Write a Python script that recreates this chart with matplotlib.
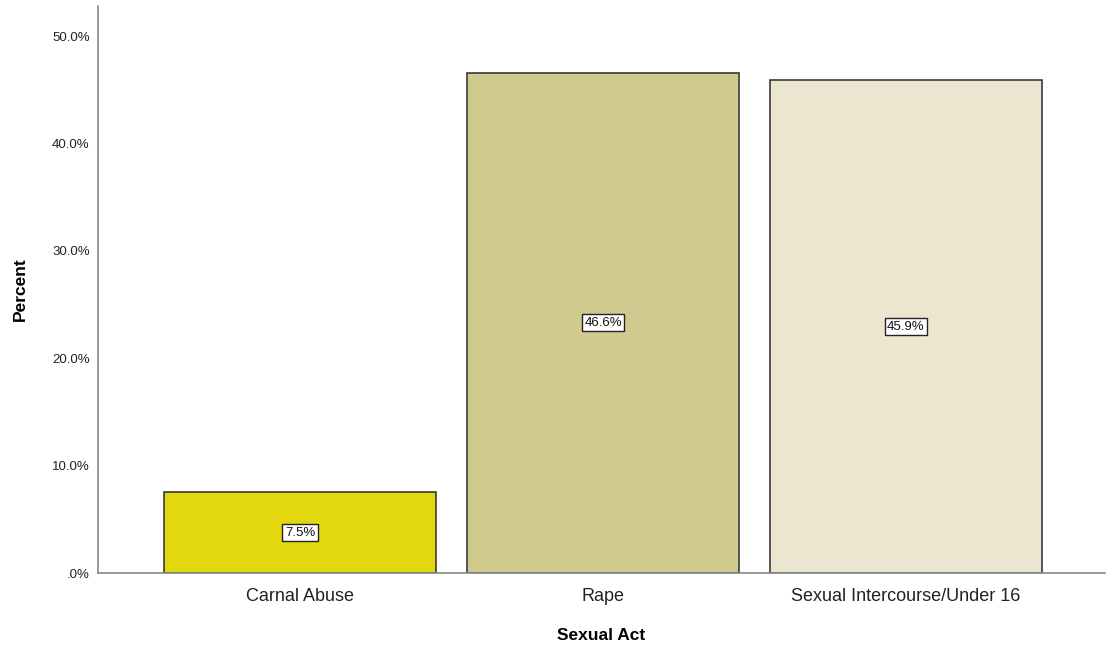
import matplotlib
matplotlib.use("Agg")
import matplotlib.pyplot as plt
from matplotlib.ticker import FuncFormatter

categories = ["Carnal Abuse", "Rape", "Sexual Intercourse/Under 16"]
percents = [7.5, 46.6, 45.9]
bar_colors = ["#E3D70E", "#D0CA8E", "#ECE5CF"]

fig = plt.figure(figsize=(11.06, 6.51), dpi=100, facecolor="white")
ax = fig.add_axes([98 / 1106, 78 / 651, 1007 / 1106, 567 / 651])

x = list(range(len(categories)))
ax.bar(x, percents, width=0.898, color=bar_colors, edgecolor="#3a3a3a", linewidth=1.2, zorder=2)

for xi, p in zip(x, percents):
    ax.text(xi, p / 2, "{:.1f}%".format(p), ha="center", va="center", fontsize=9.5,
            family="Liberation Sans", color="#111111", zorder=3,
            bbox=dict(boxstyle="square,pad=0.2", facecolor="white", edgecolor="#222222", linewidth=1))

ax.set_xlim(-0.667, 2.657)
ax.set_ylim(0, 52.8)
ax.set_yticks([0, 10, 20, 30, 40, 50])


def pct(v, pos):
    s = "{:.1f}%".format(v)
    return s[1:] if s.startswith("0") else s


ax.yaxis.set_major_formatter(FuncFormatter(pct))
ax.set_xticks(x)
ax.set_xticklabels(categories)
ax.tick_params(axis="x", length=0, pad=11, labelsize=13, labelcolor="#222222")
ax.tick_params(axis="y", length=0, pad=6, labelsize=9.5, labelcolor="#222222")
for lab in ax.get_xticklabels() + ax.get_yticklabels():
    lab.set_family("Liberation Sans")

for side in ["top", "right"]:
    ax.spines[side].set_visible(False)
for side in ["left", "bottom"]:
    ax.spines[side].set_color("#888888")
    ax.spines[side].set_linewidth(1.2)

ax.set_xlabel("Sexual Act", fontsize=12.5, fontweight="bold", family="Liberation Sans", labelpad=16)
ax.set_ylabel("Percent", fontsize=12.5, fontweight="bold", family="Liberation Sans", labelpad=17)

fig.savefig("out.png", dpi=100)
